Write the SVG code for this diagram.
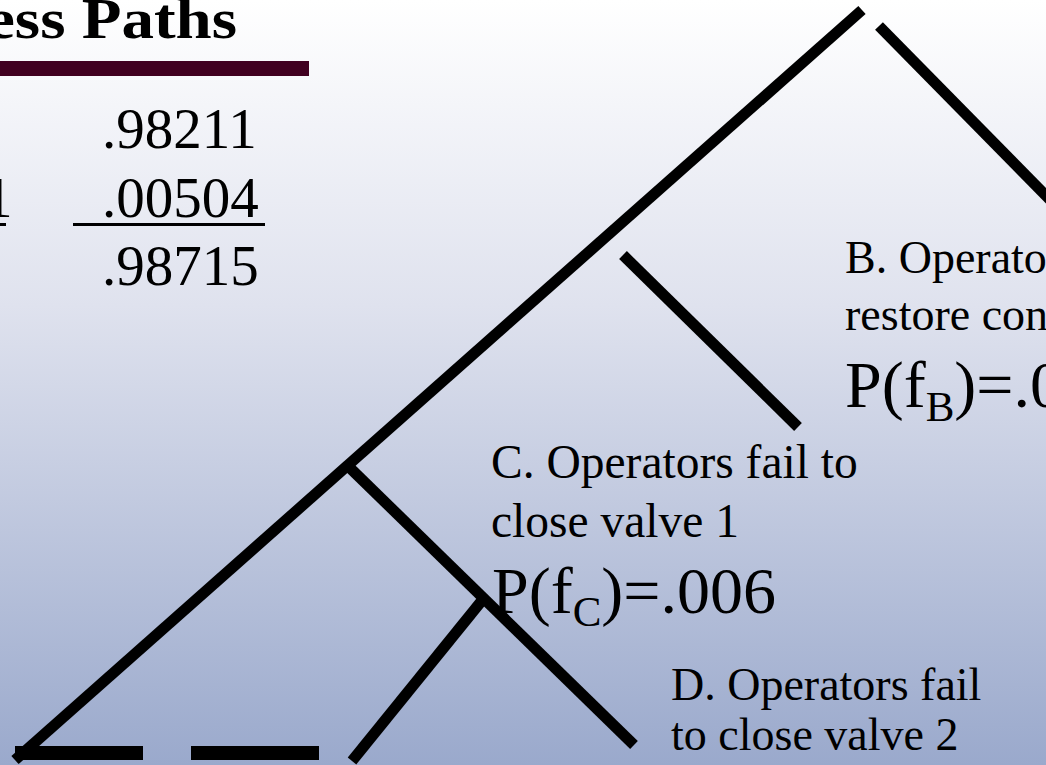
<svg xmlns="http://www.w3.org/2000/svg" width="1046" height="765" viewBox="0 0 1046 765">
  <defs>
    <linearGradient id="bg" x1="0" y1="0" x2="0" y2="1">
      <stop offset="0" stop-color="#ffffff"/>
      <stop offset="0.4" stop-color="#dfe2ee"/>
      <stop offset="1" stop-color="#9aa9cc"/>
    </linearGradient>
    <style>
      .t { font-family: "Liberation Serif", "Times New Roman", serif; fill: #000; }
      .lbl { font-size: 46px; }
      .num { font-size: 57px; }
      .pf { font-size: 66px; }
      .sub { font-size: 43px; }
      .br { stroke: #000; stroke-width: 11; stroke-linecap: butt; fill: none; }
    </style>
  </defs>
  <rect x="0" y="0" width="1046" height="765" fill="url(#bg)"/>

  <g id="title">
    <text class="t" x="-14" y="38" font-size="56" font-weight="bold" textLength="251" lengthAdjust="spacingAndGlyphs">ess Paths</text>
    <rect x="0" y="61" width="309" height="15" fill="#400020"/>
  </g>

  <g id="sums">
    <text class="t num" x="-16" y="217">1</text>
    <rect x="0" y="223" width="6" height="3" fill="#000"/>
    <text class="t num" x="102" y="148">.98211</text>
    <text class="t num" x="102" y="217">.00504</text>
    <rect x="73" y="223" width="192" height="3" fill="#000"/>
    <text class="t num" x="102" y="285">.98715</text>
  </g>

  <g id="connectors">
    <line class="br" x1="862" y1="10" x2="15" y2="760"/>
    <line class="br" x1="879" y1="26" x2="1062" y2="212"/>
    <line class="br" x1="623" y1="255" x2="798" y2="427"/>
    <line class="br" x1="348" y1="466" x2="634" y2="745"/>
    <line class="br" x1="484" y1="598" x2="352" y2="761"/>
    <rect x="15" y="746" width="128" height="14" fill="#000"/>
    <rect x="191" y="746" width="128" height="14" fill="#000"/>
  </g>

  <g id="nodeB">
    <text class="t lbl" x="845" y="273">B. Operato</text>
    <text class="t lbl" x="845" y="330">restore con</text>
    <text class="t pf" x="845" y="407">P(f<tspan class="sub" dy="14">B</tspan><tspan dy="-14">)=.0</tspan></text>
  </g>

  <g id="nodeC">
    <text class="t" font-size="47.5" x="491" y="478">C. Operators fail to</text>
    <text class="t" font-size="47.5" x="491" y="537">close valve 1</text>
    <text class="t pf" x="492" y="613">P(f<tspan class="sub" dy="13">C</tspan><tspan dy="-13">)=.006</tspan></text>
  </g>

  <g id="nodeD">
    <text class="t lbl" x="671" y="700">D. Operators fail</text>
    <text class="t lbl" x="671" y="750">to close valve 2</text>
  </g>
</svg>
